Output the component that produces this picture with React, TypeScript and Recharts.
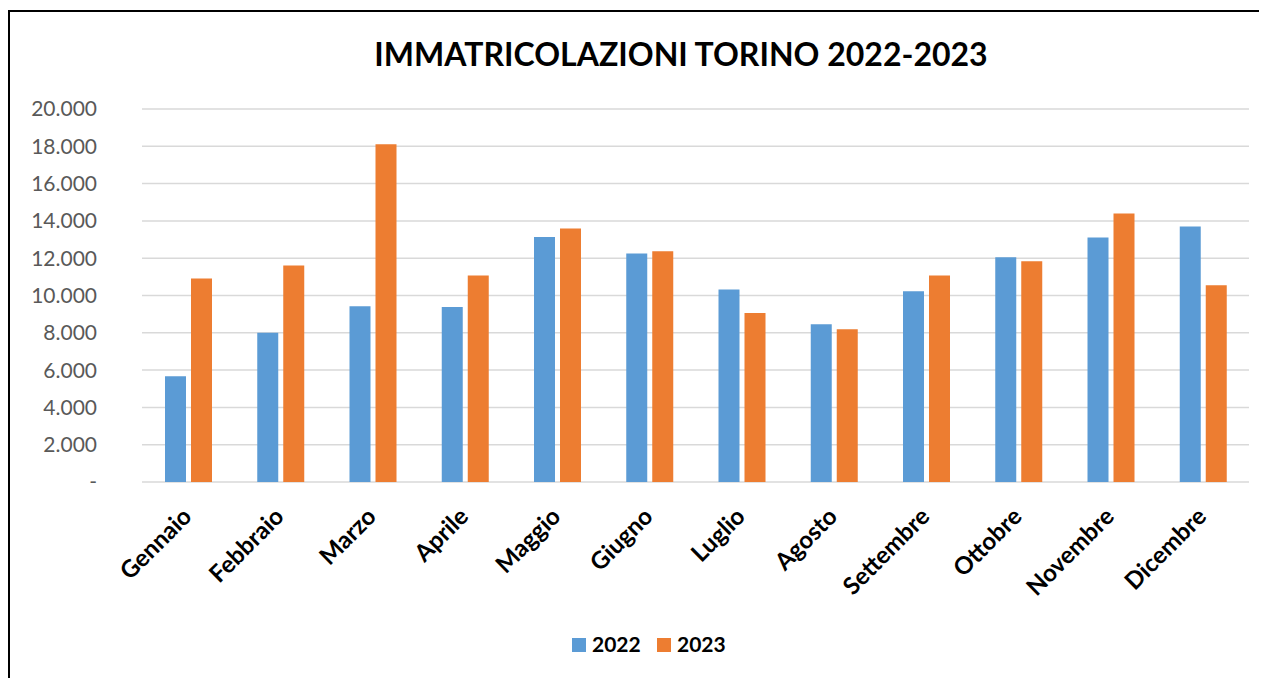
import React from 'react';
import { BarChart, Bar, XAxis, YAxis, CartesianGrid } from 'recharts';

const months = ['Gennaio', 'Febbraio', 'Marzo', 'Aprile', 'Maggio', 'Giugno', 'Luglio', 'Agosto', 'Settembre', 'Ottobre', 'Novembre', 'Dicembre'];
const values2022 = [5670, 8000, 9430, 9380, 13140, 12250, 10320, 8465, 10230, 12055, 13110, 13700];
const values2023 = [10910, 11610, 18110, 11070, 13590, 12375, 9055, 8195, 11070, 11840, 14395, 10555];
const yTicks = [0, 2000, 4000, 6000, 8000, 10000, 12000, 14000, 16000, 18000, 20000];
const seriesNames = ['2022', '2023'];
const colors = ['#5B9BD5', '#ED7D31'];
const title = 'IMMATRICOLAZIONI TORINO 2022-2023';

const data = months.map((m, i) => ({ month: m, v2022: values2022[i], v2023: values2023[i] }));

const FONT = 'Lato, sans-serif';

const fmt = (v: number) => {
  if (v === 0) return '-';
  return String(v).replace(/\B(?=(\d{3})+(?!\d))/g, '.');
};

const XTick = (props: any) => {
  const { x, y, payload } = props;
  const ax = x + 5;
  const ay = y + 36;
  return (
    <text
      x={ax}
      y={ay}
      textAnchor="end"
      transform={`rotate(-45, ${ax}, ${ay})`}
      fontFamily={FONT}
      fontWeight={700}
      fontSize={24}
      fill="#000"
    >
      {payload.value}
    </text>
  );
};

export default function App() {
  return (
    <div
      style={{
        position: 'relative',
        top: 2,
        width: 1320,
        height: 700,
        borderTop: '2px solid #000',
        borderLeft: '2px solid #000',
        boxSizing: 'border-box',
        background: '#fff',
      }}
    >
      <style>{'html{overflow:hidden}'}</style>
      <div style={{ position: 'absolute', left: 0, top: 0 }}>
        <BarChart
          width={1257}
          height={656}
          data={data}
          margin={{ top: 97, right: 18, bottom: 36, left: 0 }}
          barSize={21}
          barGap={5}
        >
          <CartesianGrid vertical={false} stroke="#d9d9d9" strokeWidth={1.5} />
          <XAxis
            dataKey="month"
            axisLine={false}
            tickLine={false}
            tickSize={0}
            tickMargin={0}
            height={150}
            interval={0}
            tick={<XTick />}
          />
          <YAxis
            width={132}
            domain={[0, 20000]}
            ticks={yTicks}
            tickFormatter={fmt}
            axisLine={false}
            tickLine={false}
            tickSize={0}
            tickMargin={45}
            tick={{ fontFamily: FONT, fontSize: 21, fill: '#595959' }}
          />
          <Bar dataKey="v2022" name={seriesNames[0]} fill={colors[0]} isAnimationActive={false} />
          <Bar dataKey="v2023" name={seriesNames[1]} fill={colors[1]} isAnimationActive={false} />
        </BarChart>
      </div>
      <svg
        width={1257}
        height={656}
        style={{ position: 'absolute', left: 0, top: 0, pointerEvents: 'none' }}
      >
        <text x={671} y={54} textAnchor="middle" fontFamily={FONT} fontWeight={700} fontSize={32} fill="#000">
          {title}
        </text>
        <rect x={562} y={626} width={14} height={14} fill={colors[0]} />
        <text x={582} y={640} fontFamily={FONT} fontWeight={700} fontSize={21} fill="#000">
          {seriesNames[0]}
        </text>
        <rect x={647} y={626} width={14} height={14} fill={colors[1]} />
        <text x={667} y={640} fontFamily={FONT} fontWeight={700} fontSize={21} fill="#000">
          {seriesNames[1]}
        </text>
      </svg>
    </div>
  );
}
